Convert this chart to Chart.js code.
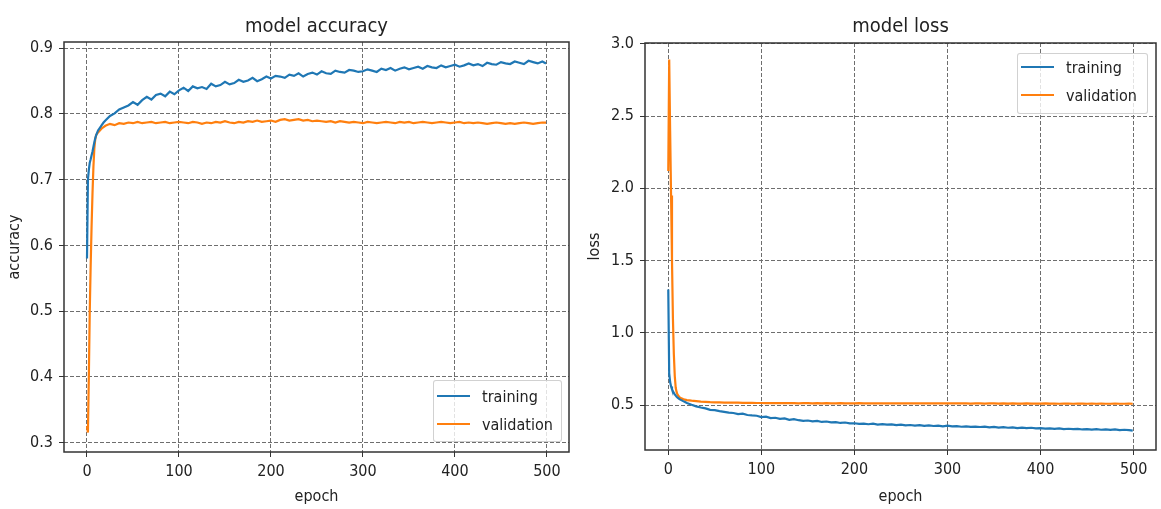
<!DOCTYPE html>
<html>
<head>
<meta charset="utf-8">
<script src="https://cdn.jsdelivr.net/npm/chart.js@4.4.0/dist/chart.umd.min.js"></script>
<style>
  html, body { margin: 0; padding: 0; background: #fff; }
  #wrap { position: relative; width: 1161px; height: 509px; overflow: hidden; }
  .panel { position: absolute; top: 0; }
  .legend {
    position: absolute; box-sizing: border-box;
    border: 1px solid rgba(204,204,204,0.9); border-radius: 3px;
    background: rgba(255,255,255,0.8);
    font-family: 'DejaVu Sans Condensed', 'DejaVu Sans', sans-serif; font-size: 16px; color: #222;
  }
  .legend .row { position: absolute; left: 0; height: 20px; display: flex; align-items: center; white-space: nowrap; }
  .legend .swatch { width: 33px; height: 2px; margin-left: 3px; margin-right: 12px; }
</style>
</head>
<body>
<div id="wrap">
  <canvas id="accChart" class="panel" width="580" height="509" style="left:0"></canvas>
  <canvas id="lossChart" class="panel" width="581" height="509" style="left:580px"></canvas>
  <div id="accLegend" class="legend" style="left:433px; top:380px; width:129px; height:62px"></div>
  <div id="lossLegend" class="legend" style="left:1017px; top:53px; width:131px; height:61px"></div>
</div>
<script>
// epochs (x values shared by all four series)
const epochs = [
  0, 1, 2, 3, 4, 5, 6, 7, 8, 9, 10, 12, 14, 16, 18,
  20, 25, 30, 35, 40, 45, 50, 55, 60, 65, 70, 75, 80, 85, 90, 95,
  100, 105, 110, 115, 120, 125, 130, 135, 140, 145, 150, 155, 160, 165, 170, 175, 180, 185, 190, 195,
  200, 205, 210, 215, 220, 225, 230, 235, 240, 245, 250, 255, 260, 265, 270, 275, 280, 285, 290, 295,
  300, 305, 310, 315, 320, 325, 330, 335, 340, 345, 350, 355, 360, 365, 370, 375, 380, 385, 390, 395,
  400, 405, 410, 415, 420, 425, 430, 435, 440, 445, 450, 455, 460, 465, 470, 475, 480, 485, 490, 495, 499
];

const accTraining = [
  .580, .700, .715, .726, .731, .737, .743, .750, .757, .763, .768, .775, .779, .783, .787,
  .790, .797, .801, .807, .810, .813, .818, .814, .821, .826, .822, .829, .831, .827, .834, .830,
  .836, .840, .835, .842, .839, .841, .838, .846, .842, .844, .849, .845, .847, .852, .849, .851, .855, .850, .853, .857,
  .854, .858, .857, .855, .860, .858, .862, .857, .861, .863, .860, .865, .862, .861, .866, .864, .863, .867, .866, .864,
  .865, .868, .866, .864, .869, .867, .870, .866, .869, .871, .868, .870, .872, .869, .873, .871, .870, .874, .871, .873,
  .875, .872, .874, .877, .874, .876, .873, .878, .876, .875, .879, .877, .876, .880, .878, .876, .881, .879, .877, .880, .877
];
const accValidation = [
  .325, .315, .400, .500, .570, .630, .680, .720, .748, .762, .768, .772, .775, .778, .780,
  .782, .785, .783, .786, .785, .787, .786, .788, .786, .787, .788, .786, .787, .788, .786, .787,
  .788, .787, .786, .788, .787, .785, .787, .786, .788, .787, .789, .787, .786, .788, .787, .789, .788, .790, .788, .789,
  .790, .788, .791, .792, .790, .791, .792, .790, .791, .789, .790, .789, .788, .789, .787, .789, .788, .787, .788, .787,
  .786, .788, .787, .786, .787, .788, .787, .786, .788, .787, .788, .786, .787, .788, .787, .786, .787, .788, .787, .786,
  .787, .788, .786, .787, .786, .787, .786, .785, .786, .787, .786, .785, .786, .785, .786, .787, .786, .785, .786, .787, .787
];

const lossTraining = [
  1.30, .720, .660, .630, .610, .595, .585, .575, .566, .558, .552, .542, .535, .528, .522,
  .515, .503, .492, .484, .478, .468, .466, .459, .454, .449, .446, .438, .441, .432, .429, .427,
  .418, .421, .411, .413, .405, .408, .399, .403, .396, .392, .394, .388, .391, .384, .387, .381, .383, .377, .380, .374,
  .375, .371, .373, .368, .372, .366, .369, .365, .367, .362, .366, .361, .363, .359, .362, .357, .360, .356, .358, .354,
  .358, .353, .355, .351, .354, .350, .352, .349, .351, .346, .350, .345, .348, .344, .347, .342, .345, .341, .344, .340,
  .341, .338, .340, .336, .339, .335, .337, .334, .336, .332, .335, .331, .334, .330, .333, .329, .332, .328, .330, .327, .324
];
const lossValidation = [
  2.12, 2.89, 2.40, 1.95, 1.50, 1.10, .850, .700, .620, .590, .572, .555, .547, .542, .538,
  .535, .531, .528, .525, .523, .521, .520, .519, .518, .518, .517, .517, .516, .516, .516, .515,
  .515, .514, .515, .514, .514, .515, .514, .514, .513, .514, .514, .513, .514, .513, .514, .513, .513, .514, .513, .513,
  .513, .514, .513, .513, .512, .513, .513, .512, .513, .513, .512, .513, .512, .513, .512, .512, .513, .512, .512, .513,
  .512, .512, .513, .512, .512, .511, .512, .512, .511, .512, .512, .511, .512, .511, .512, .511, .511, .512, .511, .511,
  .511, .512, .511, .511, .510, .511, .511, .510, .511, .511, .510, .511, .510, .511, .510, .510, .511, .510, .510, .511, .510
];

const seriesLabels = ['training', 'validation'];
const seriesColors = ['#1f77b4', '#ff7f0e'];

const xTicks = [0, 100, 200, 300, 400, 500];
const accTicks = [0.3, 0.4, 0.5, 0.6, 0.7, 0.8, 0.9];
const lossTicks = [0.5, 1.0, 1.5, 2.0, 2.5, 3.0];

const FONT = "'DejaVu Sans Condensed', 'DejaVu Sans', sans-serif";
const INK = '#222';

// matplotlib-style box around the axes
const framePlugin = {
  id: 'frame',
  afterDraw(chart) {
    const { ctx, chartArea: a } = chart;
    ctx.save();
    ctx.strokeStyle = '#333';
    ctx.lineWidth = 1.5;
    ctx.strokeRect(a.left, a.top, a.right - a.left, a.bottom - a.top);
    ctx.restore();
  }
};

function toPoints(ys) {
  return ys.map((y, i) => ({ x: epochs[i], y: y }));
}

function makeChart(id, opt) {
  const grid = { color: '#6e6e6e', lineWidth: 1, tickLength: 5, tickColor: '#333', tickWidth: 1 };
  const border = { display: false, dash: [4, 2] };
  return new Chart(document.getElementById(id), {
    type: 'line',
    data: {
      datasets: opt.series.map((s, i) => ({
        label: seriesLabels[i],
        data: toPoints(s),
        borderColor: seriesColors[i],
        borderWidth: 2.2,
        pointRadius: 0,
        tension: 0,
        fill: false
      }))
    },
    plugins: [framePlugin],
    options: {
      responsive: false,
      animation: false,
      devicePixelRatio: 1,
      layout: { padding: { left: 0, right: opt.padRight, top: 0, bottom: 0 } },
      plugins: {
        legend: { display: false },
        tooltip: { enabled: false },
        title: {
          display: true, text: opt.title, fullSize: false, color: INK,
          font: { family: FONT, size: 20, weight: 'normal' },
          padding: { top: opt.titleTop, bottom: opt.titleBottom }
        }
      },
      scales: {
        x: {
          type: 'linear', min: -25, max: 524,
          afterBuildTicks: s => { s.ticks = xTicks.map(v => ({ value: v })); },
          afterFit: s => { s.height = opt.xHeight; },
          grid: grid, border: border,
          ticks: { color: INK, padding: 5, font: { family: FONT, size: 16 } },
          title: { display: true, text: 'epoch', color: INK, font: { family: FONT, size: 16 }, padding: { top: 0, bottom: 3 } }
        },
        y: {
          min: opt.yMin, max: opt.yMax,
          afterBuildTicks: s => { s.ticks = opt.yTicks.map(v => ({ value: v })); },
          afterFit: s => { s.width = opt.yWidth; },
          grid: grid, border: border,
          ticks: { color: INK, padding: 6, font: { family: FONT, size: 16 }, callback: v => v.toFixed(1) },
          title: { display: true, text: opt.yTitle, color: INK, font: { family: FONT, size: 16 }, padding: { top: 5, bottom: 0 } }
        }
      }
    }
  });
}

function buildLegend(chart, el, rowTops) {
  chart.data.datasets.forEach((ds, i) => {
    const row = document.createElement('div');
    row.className = 'row';
    row.style.top = rowTops[i] + 'px';
    const sw = document.createElement('span');
    sw.className = 'swatch';
    sw.style.background = ds.borderColor;
    const txt = document.createElement('span');
    txt.textContent = ds.label;
    row.appendChild(sw);
    row.appendChild(txt);
    el.appendChild(row);
  });
}

const accChart = makeChart('accChart', {
  title: 'model accuracy', yTitle: 'accuracy',
  series: [accTraining, accValidation],
  yMin: 0.2854, yMax: 0.9096, yTicks: accTicks,
  yWidth: 64, xHeight: 57, padRight: 11,
  titleTop: 15, titleBottom: 3
});

const lossChart = makeChart('lossChart', {
  title: 'model loss', yTitle: 'loss',
  series: [lossTraining, lossValidation],
  yMin: 0.19, yMax: 3.005, yTicks: lossTicks,
  yWidth: 65, xHeight: 59, padRight: 5,
  titleTop: 15, titleBottom: 4
});

buildLegend(accChart, document.getElementById('accLegend'), [5, 33]);
buildLegend(lossChart, document.getElementById('lossLegend'), [3, 31]);
</script>
</body>
</html>
